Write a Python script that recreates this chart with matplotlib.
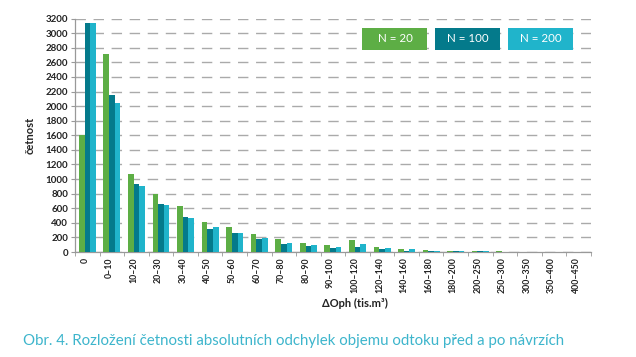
import numpy as np
import matplotlib
matplotlib.use('Agg')
import matplotlib.pyplot as plt

# data
categories = ['0', '0–10', '10–20', '20–30', '30–40', '40–50', '50–60', '60–70',
              '70–80', '80–90', '90–100', '100–120', '120–140', '140–160',
              '160–180', '180–200', '200–250', '250–300', '300–350',
              '350–400', '400–450']
n20 = [1600, 2720, 1070, 800, 630, 410, 350, 245, 175, 130, 90, 165, 75,
       35, 25, 20, 15, 10, 2, 0, 0]
n100 = [3140, 2150, 930, 660, 475, 320, 260, 175, 110, 85, 60, 75, 45,
        20, 10, 10, 10, 3, 1, 0, 0]
n200 = [3140, 2045, 905, 645, 462, 345, 260, 190, 125, 100, 75, 115, 60,
        35, 20, 10, 10, 3, 2, 0, 0]
series_names = ['N = 20', 'N = 100', 'N = 200']
colors = ['#5DAE45', '#047A8B', '#20B4CB']
yticks = list(range(0, 3201, 200))

plt.rcParams['font.family'] = ['Lato', 'DejaVu Sans']

fig = plt.figure(figsize=(6.36, 3.57), dpi=100)
ax = fig.add_axes([0.118, 0.294, 0.811, 0.654])

x = np.arange(len(categories))
w = 0.23
for i, vals in enumerate([n20, n100, n200]):
    ax.bar(x + (i - 1) * w, vals, width=w, color=colors[i], zorder=3)

ax.set_xlim(-0.5, len(categories) - 0.5)
ax.set_ylim(0, 3200)
ax.set_yticks(yticks)
ax.set_yticklabels([str(t) for t in yticks], fontsize=7, fontweight='bold',
                   color='#222222')
ax.set_xticks(x - 0.1)
ax.set_xticklabels(categories, rotation=90, fontsize=6.3, fontweight='bold',
                   color='#222222')
ax.set_xticks(np.arange(len(categories) + 1) - 0.5, minor=True)
ax.tick_params(axis='x', which='major', length=0, pad=4)
ax.tick_params(axis='x', which='minor', length=3, color='#999999')
ax.tick_params(axis='y', length=3, color='#999999', pad=2)

for s in ['top', 'right']:
    ax.spines[s].set_visible(False)
for s in ['left', 'bottom']:
    ax.spines[s].set_color('#999999')
    ax.spines[s].set_linewidth(0.9)

ax.yaxis.grid(True, color='#AAAAAA', linewidth=1.0, linestyle=(0, (7.5, 5.5)))
ax.set_axisbelow(True)

ax.set_ylabel('četnost', fontsize=8, fontweight='bold', color='#222222',
              labelpad=7)

# legend as coloured boxes
box_x = [362, 435, 508]
for i in range(3):
    fig.patches.append(plt.Rectangle((box_x[i] / 636, 1 - 50 / 357),
                                     65 / 636, 22 / 357,
                                     transform=fig.transFigure,
                                     facecolor=colors[i], edgecolor='none',
                                     zorder=4))
    fig.text((box_x[i] + 33) / 636, 1 - 39 / 357, series_names[i],
             ha='center', va='center', color='white', fontsize=8.3,
             zorder=5)

fig.text(355 / 636, 1 - 303 / 357, 'ΔOph (tis.m³)', ha='center',
         va='center', fontsize=8, fontweight='bold', color='#222222')

fig.text(23 / 636, 1 - 341 / 357,
         'Obr. 4. Rozložení četnosti absolutních odchylek objemu odtoku před a po návrzích',
         ha='left', va='center', fontsize=10.8, color='#3DB5CC',
         fontweight='normal')

fig.savefig('out.png', dpi=100)
